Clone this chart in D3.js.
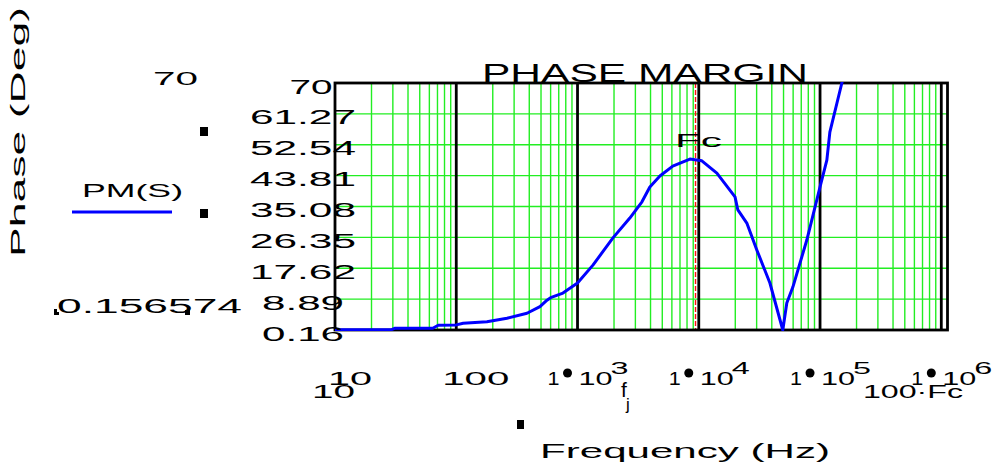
<!DOCTYPE html>
<html><head><meta charset="utf-8">
<script src="https://cdn.jsdelivr.net/npm/d3@7"></script>
<style>
body{margin:0;background:#fff;}
svg{display:block;}
text{font-family:"Liberation Sans",Arial,sans-serif;fill:#000;}
</style>
</head><body>
<svg id="c" width="998" height="465"></svg>
<script>
// ---- data ----
const freq  = [10,29,31,64,71,100,114,179,262,383,490,560,600,758,1000,1340,1960,2700,3400,3950,4780,6100,8450,10600,14100,19900,21000,24900,30100,38600,49300,53200,59700,77800,100000,113800,120500,151300,170000];
const phase = [0.2,0.2,0.64,0.64,1.5,1.6,2.05,2.5,3.5,4.9,6.75,8.6,9.3,10.6,13.45,18.5,26.2,31.8,36.4,40.6,43.7,46.5,48.5,48.0,44.5,37.8,34.1,30.4,22.8,13.45,0.16,7.8,12.3,25.6,40.6,48.2,56.1,70,76];
const yTicks = [0.156574,8.887,17.618,26.348,35.078,43.809,52.539,61.27,70];
const yTickLabels = ["0.16","8.89","17.62","26.35","35.08","43.81","52.54","61.27","70"];
const xTicks = [10,100,1e3,1e4,1e5,1e6];
const xTickMant = ["","","1","1","1","1"];
const xTickBase = ["10","100","10","10","10","10"];
const xTickExp = ["","","3","4","5","6"];
const Fc = 9400;
const xMin = 10, xMax = 1.125e6;
const yMin = 0.156574, yMax = 70;
const seriesName = "PM(S)";
const title = "PHASE MARGIN";
const xTitle = "Frequency (Hz)";
const yTitle = "Phase (Deg)";

// ---- layout ----
const L = 335, R = 947.5, T = 83, B = 330;
const svg = d3.select("#c");
const x = d3.scaleLog().domain([xMin, xMax]).range([L, R]);
const y = d3.scaleLinear().domain([yMin, yMax]).range([B, T]);

// minor grid (green)
const minor = [];
for (let e = 1; e <= 6; e++) for (let m = 2; m <= 9; m++) { const v = m * Math.pow(10, e); if (v < xMax) minor.push(v); }
const gGrid = svg.append("g");
gGrid.selectAll("line.vm").data(minor).join("line")
  .attr("x1", d => x(d)).attr("x2", d => x(d)).attr("y1", T).attr("y2", B)
  .attr("stroke", "#22ee22").attr("stroke-width", 1.4);
gGrid.selectAll("line.hm").data(yTicks.slice(1, -1)).join("line")
  .attr("x1", L).attr("x2", R).attr("y1", d => y(d)).attr("y2", d => y(d))
  .attr("stroke", "#22ee22").attr("stroke-width", 1.4);

// decade lines (black)
svg.append("g").selectAll("line").data(xTicks.slice(1)).join("line")
  .attr("x1", d => x(d)).attr("x2", d => x(d)).attr("y1", T).attr("y2", B)
  .attr("stroke", "#000").attr("stroke-width", 2.8);

// Fc marker
svg.append("line").attr("x1", x(Fc)).attr("x2", x(Fc)).attr("y1", T).attr("y2", B)
  .attr("stroke", "#ff1010").attr("stroke-width", 1.4).attr("stroke-dasharray", "5,2");

// border
svg.append("rect").attr("x", L).attr("y", T).attr("width", R - L).attr("height", B - T)
  .attr("fill", "none").attr("stroke", "#000").attr("stroke-width", 2.8);

// curve
svg.append("clipPath").attr("id", "clip").append("rect")
  .attr("x", L).attr("y", T - 1).attr("width", R - L).attr("height", B - T + 2);
const pts = freq.map((f, i) => [f, phase[i]]);
svg.append("path").datum(pts)
  .attr("clip-path", "url(#clip)")
  .attr("d", d3.line().x(d => x(d[0])).y(d => y(d[1])))
  .attr("fill", "none").attr("stroke", "#0000ff").attr("stroke-width", 3).attr("stroke-linejoin", "round");

// y axis labels via d3 axis
const yAxis = d3.axisLeft(y).tickValues(yTicks).tickFormat((d, i) => yTickLabels[i]).tickSize(0);
const gy = svg.append("g").call(yAxis);
gy.select(".domain").remove();
gy.selectAll("text")
  .attr("x", (d, i) => yTickLabels[i].length === 2 ? 311 : 303)
  .attr("dy", 0).attr("y", 10)
  .attr("text-anchor", "middle")
  .attr("font-size", 20).attr("font-family", "Liberation Sans, Arial, sans-serif")
  .attr("fill", "#000")
  .attr("textLength", (d, i) => { const s = yTickLabels[i]; return s.length === 2 ? 43 : (s.length === 4 ? 82 : 106); })
  .attr("lengthAdjust", "spacingAndGlyphs");

// x tick labels
const gx = svg.append("g");
const xl = gx.selectAll("g").data(xTicks).join("g");
const sci = xl.filter((d, i) => xTickExp[i] !== "");
const plain = xl.filter((d, i) => xTickExp[i] === "");
plain.append("text")
  .attr("x", (d, i) => i === 0 ? x(d) - 7 : x(d) - 14)
  .attr("y", 385).attr("font-size", 18)
  .attr("textLength", (d, i) => i === 0 ? 44 : 67)
  .attr("lengthAdjust", "spacingAndGlyphs")
  .text(d => xTickBase[xTicks.indexOf(d)]);
sci.append("text")
  .attr("x", d => x(d) - 30).attr("y", 385).attr("font-size", 18)
  .attr("textLength", 12).attr("lengthAdjust", "spacingAndGlyphs")
  .text(d => xTickMant[xTicks.indexOf(d)]);
sci.append("circle").attr("cx", d => x(d) - 10).attr("cy", 373).attr("r", 4.5).attr("fill", "#000");
sci.append("text")
  .attr("x", d => x(d) + 1).attr("y", 385).attr("font-size", 18)
  .attr("textLength", 34).attr("lengthAdjust", "spacingAndGlyphs")
  .text(d => xTickBase[xTicks.indexOf(d)]);
sci.append("text")
  .attr("x", d => x(d) + 33).attr("y", 374).attr("font-size", 17)
  .attr("textLength", 18).attr("lengthAdjust", "spacingAndGlyphs")
  .text(d => xTickExp[xTicks.indexOf(d)]);

// x limits / markers below
svg.append("text").attr("x", x(xMin) - 23).attr("y", 398).attr("font-size", 18)
  .attr("textLength", 43).attr("lengthAdjust", "spacingAndGlyphs").text(String(xMin));
svg.append("text").attr("x", 863).attr("y", 398).attr("font-size", 18)
  .attr("textLength", 100).attr("lengthAdjust", "spacingAndGlyphs").text("100\u00b7Fc");
svg.append("text").attr("x", 621).attr("y", 397).attr("font-size", 21).text("f");
svg.append("text").attr("x", 626).attr("y", 410).attr("font-size", 17).text("j");
svg.append("rect").attr("x", 517).attr("y", 420).attr("width", 7).attr("height", 9).attr("fill", "#000");

// axis titles
svg.append("text").attr("x", 540).attr("y", 458).attr("font-size", 20)
  .attr("textLength", 290).attr("lengthAdjust", "spacingAndGlyphs").text(xTitle);
svg.append("text").attr("transform", "translate(25,132) rotate(-90)").attr("text-anchor", "middle")
  .attr("font-size", 20).attr("textLength", 250).attr("lengthAdjust", "spacingAndGlyphs").text(yTitle);

// title
svg.append("text").attr("x", 482).attr("y", 82).attr("font-size", 25)
  .attr("textLength", 326).attr("lengthAdjust", "spacingAndGlyphs").text(title);

// Fc label
svg.append("text").attr("x", 675).attr("y", 147).attr("font-size", 19)
  .attr("textLength", 47).attr("lengthAdjust", "spacingAndGlyphs").text("Fc");

// left-side y limits and markers
svg.append("text").attr("x", 153).attr("y", 85).attr("font-size", 18)
  .attr("textLength", 45).attr("lengthAdjust", "spacingAndGlyphs").text(String(yMax));
svg.append("text").attr("x", 57).attr("y", 313).attr("font-size", 20)
  .attr("textLength", 185).attr("lengthAdjust", "spacingAndGlyphs").text(String(yMin));
svg.append("rect").attr("x", 54).attr("y", 309).attr("width", 3).attr("height", 6).attr("fill", "#000");
svg.append("rect").attr("x", 54).attr("y", 312).attr("width", 5).attr("height", 3).attr("fill", "#000");
svg.append("rect").attr("x", 185).attr("y", 310).attr("width", 5).attr("height", 5).attr("fill", "#000");
svg.append("rect").attr("x", 200).attr("y", 127).attr("width", 8).attr("height", 9).attr("fill", "#000");
svg.append("rect").attr("x", 200).attr("y", 209).attr("width", 8).attr("height", 9).attr("fill", "#000");

// legend
svg.append("text").attr("x", 82).attr("y", 197).attr("font-size", 19)
  .attr("textLength", 101).attr("lengthAdjust", "spacingAndGlyphs").text(seriesName);
svg.append("line").attr("x1", 72).attr("x2", 172).attr("y1", 212).attr("y2", 212)
  .attr("stroke", "#0000ff").attr("stroke-width", 3);
</script>
</body></html>
